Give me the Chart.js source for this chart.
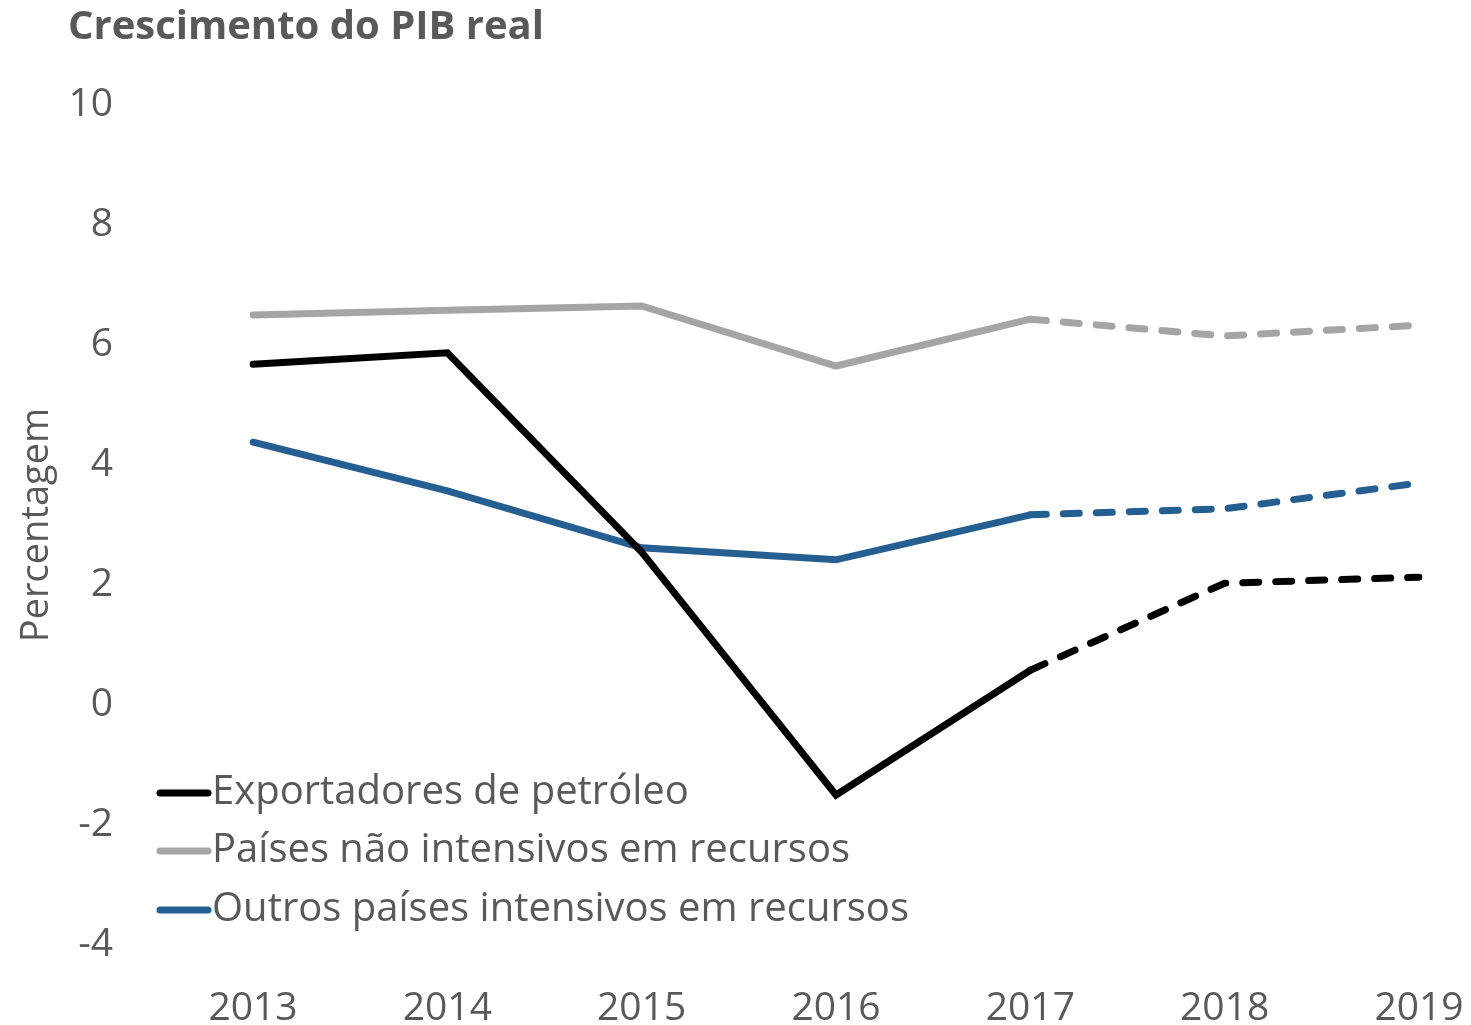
<!DOCTYPE html>
<html lang="pt">
<head>
<meta charset="UTF-8">
<title>Crescimento do PIB real</title>
<script src="https://cdn.jsdelivr.net/npm/chart.js"></script>
<style>
  body { margin: 0; background: #fff; }
</style>
</head>
<body>
<canvas id="pibChart" width="1471" height="1025"></canvas>
<script>
    // dados
    const anos = ["2013", "2014", "2015", "2016", "2017", "2018", "2019"];
    const exportadoresPetroleo = [5.68, 5.87, 2.55, -1.5, 0.58, 2.03, 2.13];
    const naoIntensivos = [6.5, 6.58, 6.65, 5.65, 6.43, 6.15, 6.33];
    const outrosIntensivos = [4.38, 3.57, 2.62, 2.42, 3.17, 3.27, 3.7];
    const inicioProjecao = 4; // a partir de 2017 a linha fica tracejada

    const corTexto = "#595959";
    const fonte = "'Open Sans', 'Noto Sans', sans-serif";

    function serie(label, data, cor) {
        return {
            label,
            data,
            borderColor: cor,
            backgroundColor: cor,
            borderWidth: 7,
            borderCapStyle: "round",
            pointRadius: 0,
            tension: 0,
            fill: false,
            segment: {
                borderDash: ctx => ctx.p0DataIndex >= inicioProjecao ? [16, 17] : undefined
            }
        };
    }

    // titulo no canto superior esquerdo
    const tituloPlugin = {
        id: "tituloPlugin",
        afterDraw(chart) {
            const ctx = chart.ctx;
            ctx.save();
            ctx.font = `bold 40px ${fonte}`;
            ctx.fillStyle = corTexto;
            ctx.textBaseline = "middle";
            ctx.textAlign = "left";
            ctx.fillText("Crescimento do PIB real", 68, 28);
            ctx.restore();
        }
    };

    // legenda dentro da área do gráfico
    const legendaPlugin = {
        id: "legendaPlugin",
        afterDraw(chart) {
            const ctx = chart.ctx;
            const ys = [793, 851, 910];
            ctx.save();
            chart.data.datasets.forEach((ds, i) => {
                const y = ys[i];
                ctx.beginPath();
                ctx.strokeStyle = ds.borderColor;
                ctx.lineWidth = 7;
                ctx.lineCap = "round";
                ctx.moveTo(160, y);
                ctx.lineTo(208, y);
                ctx.stroke();
                ctx.font = `40px ${fonte}`;
                ctx.fillStyle = corTexto;
                ctx.textBaseline = "middle";
                ctx.textAlign = "left";
                ctx.fillText(ds.label, 212, y);
            });
            ctx.restore();
        }
    };

    new Chart(document.getElementById("pibChart"), {
        type: "line",
        data: {
            labels: anos,
            datasets: [
                serie("Exportadores de petróleo", exportadoresPetroleo, "#000000"),
                serie("Países não intensivos em recursos", naoIntensivos, "#A5A5A5"),
                serie("Outros países intensivos em recursos", outrosIntensivos, "#255E91")
            ]
        },
        options: {
            responsive: false,
            animation: false,
            layout: { padding: { top: 105, right: 52, left: 0, bottom: 0 } },
            plugins: {
                legend: { display: false },
                tooltip: { enabled: false }
            },
            scales: {
                x: {
                    offset: false,
                    grid: { display: false, drawTicks: false },
                    border: { display: false },
                    ticks: {
                        color: corTexto,
                        font: { family: fonte, size: 39 },
                        padding: 40,
                        maxRotation: 0
                    },
                    afterFit(scale) {
                        scale.height = 80;
                        scale.paddingLeft = 0;
                        scale.paddingRight = 0;
                    }
                },
                y: {
                    min: -4,
                    max: 10,
                    grid: { display: false, drawTicks: false },
                    border: { display: false },
                    ticks: {
                        stepSize: 2,
                        color: corTexto,
                        font: { family: fonte, size: 39 },
                        padding: 140
                    },
                    title: {
                        display: true,
                        text: "Percentagem",
                        color: corTexto,
                        font: { family: fonte, size: 38 },
                        padding: { top: 14, bottom: 0 }
                    },
                    afterFit(scale) {
                        scale.width = 253;
                        scale.paddingTop = 0;
                        scale.paddingBottom = 0;
                    }
                }
            }
        },
        plugins: [tituloPlugin, legendaPlugin]
    });
</script>
</body>
</html>
